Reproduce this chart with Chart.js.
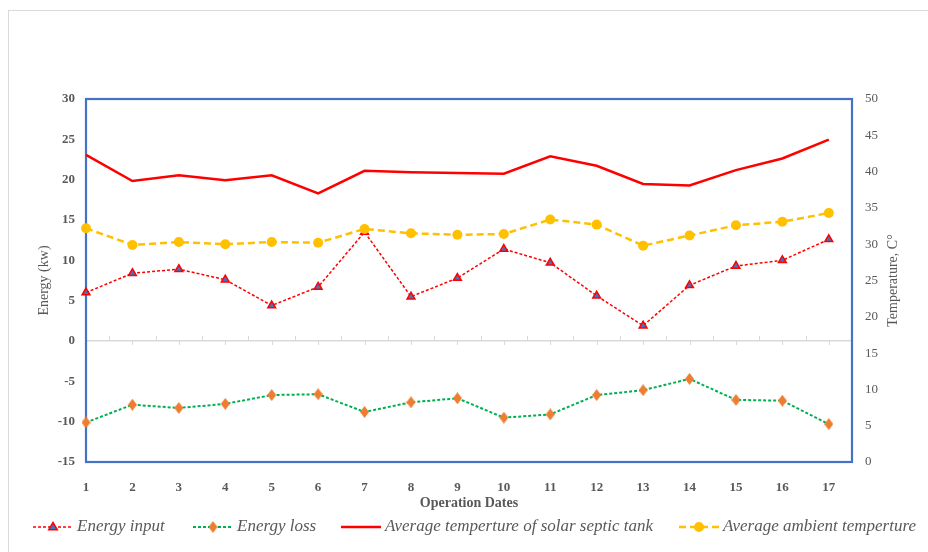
<!DOCTYPE html>
<html><head><meta charset="utf-8">
<script src="https://cdn.jsdelivr.net/npm/chart.js@4/dist/chart.umd.min.js"></script>
<style>html,body{margin:0;padding:0;background:#fff}#wrap{width:928px;height:552px;position:relative}</style>
</head><body><div id="wrap"><canvas id="c" width="928" height="552"></canvas></div>
<script>
// ---- data ----
const dates = [1,2,3,4,5,6,7,8,9,10,11,12,13,14,15,16,17];
const energyInput = [6.0,8.4,8.9,7.6,4.4,6.7,13.5,5.5,7.8,11.4,9.7,5.6,1.9,6.9,9.3,10.0,12.6];
const energyLoss = [-10.1,-7.9,-8.3,-7.8,-6.7,-6.6,-8.8,-7.6,-7.1,-9.5,-9.1,-6.7,-6.1,-4.7,-7.3,-7.4,-10.3];
const tankTemp = [42.3,38.7,39.5,38.8,39.5,37.0,40.1,39.9,39.8,39.7,42.1,40.8,38.3,38.1,40.2,41.8,44.4];
const ambientTemp = [32.2,29.9,30.3,30.0,30.3,30.2,32.1,31.5,31.3,31.4,33.4,32.7,29.8,31.2,32.6,33.1,34.3];
const energyTicks = [-15,-10,-5,0,5,10,15,20,25,30];
const tempTicks = [0,5,10,15,20,25,30,35,40,45,50];
const seriesNames = ['Energy input','Energy loss','Average temperture of solar septic tank','Average ambient temperture'];
const xTitle = 'Operation Dates';
const yTitle = 'Energy (kw)';
const y2Title = 'Temperature, C°';

const GRAY = '#595959';
const SERIF = '"Liberation Serif","Times New Roman",serif';

function diamond(w, h, color) {
  const c = document.createElement('canvas');
  c.width = w; c.height = h;
  const x = c.getContext('2d');
  x.fillStyle = color;
  x.beginPath(); x.moveTo(w/2,0); x.lineTo(w,h/2); x.lineTo(w/2,h); x.lineTo(0,h/2); x.closePath(); x.fill();
  return c;
}
const diamondImg = diamond(9, 12, '#ED7D31');

const pts = arr => dates.map((d,i)=>({x:d, y:arr[i]}));

const datasets = [
  {label: seriesNames[0], data: pts(energyInput), yAxisID:'y', borderColor:'#FF0000', borderWidth:1.5, borderDash:[3,2],
   pointStyle:'triangle', pointRadius:4.5, pointBackgroundColor:'#4472C4', pointBorderColor:'#FF0000', pointBorderWidth:1.5, order:3, clip:false},
  {label: seriesNames[1], data: pts(energyLoss), yAxisID:'y', borderColor:'#00B050', borderWidth:2, borderDash:[3,2],
   pointStyle:diamondImg, pointRadius:5, order:4, clip:false},
  {label: seriesNames[2], data: pts(tankTemp), yAxisID:'y2', borderColor:'#FF0000', borderWidth:2.5,
   pointRadius:0, order:2, clip:false},
  {label: seriesNames[3], data: pts(ambientTemp), yAxisID:'y2', borderColor:'#FFC000', borderWidth:2.5, borderDash:[7,4],
   pointStyle:'circle', pointRadius:5, pointBackgroundColor:'#FFC000', pointBorderColor:'#FFC000', pointBorderWidth:0, order:1, clip:false}
];

const legendX = [33, 193, 341, 679];

const decor = {
  id:'decor',
  beforeDraw(chart){
    const ctx = chart.ctx;
    ctx.save();
    ctx.strokeStyle = '#d9d9d9'; ctx.lineWidth = 1;
    ctx.strokeRect(8.5, 10.5, 1000, 1000);
    ctx.restore();
  },
  beforeDatasetsDraw(chart){
    const ctx = chart.ctx, a = chart.chartArea, xs = chart.scales.x, ys = chart.scales.y;
    const y0 = ys.getPixelForValue(0);
    ctx.save();
    ctx.strokeStyle = '#d9d9d9'; ctx.lineWidth = 1;
    for (let v = 1; v <= 17.5; v += 0.5) {
      const px = Math.round(xs.getPixelForValue(v)) + 0.5;
      ctx.beginPath();
      if (Number.isInteger(v)) { ctx.moveTo(px, y0); ctx.lineTo(px, y0 + 4); }
      else { ctx.moveTo(px, y0); ctx.lineTo(px, y0 - 5); }
      ctx.stroke();
    }
    ctx.strokeStyle = '#4472C4'; ctx.lineWidth = 2.2;
    ctx.strokeRect(a.left, a.top, a.right - a.left, a.bottom - a.top);
    ctx.restore();
  },
  afterDraw(chart){
    const ctx = chart.ctx, a = chart.chartArea;
    ctx.save();
    // right axis title (reads bottom-to-top)
    ctx.translate(893, (a.top + a.bottom)/2);
    ctx.rotate(-Math.PI/2);
    ctx.font = '14px ' + SERIF; ctx.fillStyle = GRAY;
    ctx.textAlign = 'center'; ctx.textBaseline = 'middle';
    ctx.fillText(y2Title, 0, 0);
    ctx.restore();
    // legend
    const ly = 527;
    ctx.save();
    ctx.font = 'italic 17px ' + SERIF;
    ctx.textBaseline = 'middle'; ctx.textAlign = 'left';
    chart.data.datasets.forEach((ds, i) => {
      const x0 = legendX[i], len = 40;
      ctx.save();
      ctx.strokeStyle = ds.borderColor; ctx.lineWidth = ds.borderWidth;
      ctx.setLineDash(ds.borderDash || []);
      ctx.beginPath(); ctx.moveTo(x0, ly); ctx.lineTo(x0 + len, ly); ctx.stroke();
      ctx.setLineDash([]);
      const cx = x0 + len/2;
      if (ds.pointRadius > 0) {
        if (ds.pointStyle === 'triangle') {
          const r = 4.5;
          ctx.beginPath();
          ctx.moveTo(cx, ly - r); ctx.lineTo(cx + r*0.95, ly + r*0.6); ctx.lineTo(cx - r*0.95, ly + r*0.6); ctx.closePath();
          ctx.fillStyle = ds.pointBackgroundColor; ctx.fill();
          ctx.strokeStyle = ds.pointBorderColor; ctx.lineWidth = 1.5; ctx.stroke();
        } else if (ds.pointStyle === 'circle') {
          ctx.beginPath(); ctx.arc(cx, ly, 5, 0, Math.PI*2);
          ctx.fillStyle = ds.pointBackgroundColor; ctx.fill();
        } else {
          ctx.drawImage(ds.pointStyle, cx - ds.pointStyle.width/2, ly - ds.pointStyle.height/2);
        }
      }
      ctx.restore();
      ctx.fillStyle = GRAY;
      ctx.fillText(ds.label, x0 + len + 4, ly);
    });
    ctx.restore();
  }
};

new Chart(document.getElementById('c'), {
  type:'line',
  data:{datasets},
  options:{
    responsive:false, animation:false,
    layout:{padding:{top:99, left:0, right:0, bottom:0}},
    plugins:{legend:{display:false}, tooltip:{enabled:false}},
    elements:{line:{tension:0}},
    scales:{
      x:{type:'linear', min:1, max:17.5, position:'bottom',
        afterBuildTicks: s => { s.ticks = dates.map(v => ({value:v})); },
        afterFit: s => { s.height = 90; },
        grid:{display:false, drawTicks:false}, border:{display:false},
        ticks:{font:{family:SERIF, size:13, weight:'bold'}, color:GRAY, padding:18, maxRotation:0, autoSkip:false},
        title:{display:true, text:xTitle, font:{family:SERIF, size:14, weight:'bold'}, color:GRAY, padding:{top:0, bottom:40}}
      },
      y:{type:'linear', position:'left', min:-15, max:30,
        afterBuildTicks: s => { s.ticks = energyTicks.map(v => ({value:v})); },
        afterFit: s => { s.width = 86; },
        grid:{drawTicks:false, color: c => c.tick && c.tick.value === 0 ? '#d9d9d9' : 'rgba(0,0,0,0)', lineWidth:1.5},
        border:{display:false},
        ticks:{font:{family:SERIF, size:13, weight:'bold'}, color:GRAY, padding:11},
        title:{display:true, text:yTitle, font:{family:SERIF, size:14}, color:GRAY, padding:{top:36, bottom:0}}
      },
      y2:{type:'linear', position:'right', min:0, max:50,
        afterBuildTicks: s => { s.ticks = tempTicks.map(v => ({value:v})); },
        afterFit: s => { s.width = 76; },
        grid:{display:false, drawTicks:false}, border:{display:false},
        ticks:{font:{family:SERIF, size:13}, color:GRAY, padding:13}
      }
    }
  },
  plugins:[decor]
});
</script></body></html>
